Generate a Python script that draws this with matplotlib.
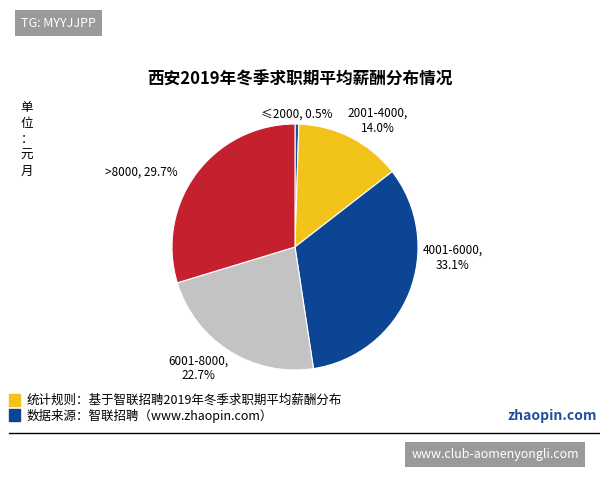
import matplotlib.pyplot as plt

plt.rcParams['font.family'] = ['Noto Sans CJK SC', 'DejaVu Sans']

labels = ["≤2000", "2001-4000", "4001-6000", "6001-8000", ">8000"]
shares = [0.5, 14.0, 33.1, 22.7, 29.7]
colors = ["#1f4e9c", "#f2c419", "#0d4595", "#c3c3c3", "#c4202e"]

fig = plt.figure(figsize=(6, 4.8), dpi=100)
fig.patch.set_facecolor("white")

ax = fig.add_axes([172 / 600, 110 / 480, 246 / 600, 246 / 480])
ax.pie(shares, colors=colors, startangle=90, counterclock=False,
       wedgeprops=dict(edgecolor="white", linewidth=0.8))
ax.set_xlim(-1, 1)
ax.set_ylim(-1, 1)
ax.set_aspect("equal")

fig.text(0.5, 0.825, "西安2019年冬季求职期平均薪酬分布情况", ha="center", fontsize=12, fontweight="bold")
fig.text(0.045, 0.79, "单\n位\n：\n元\n月", ha="center", va="top", fontsize=9, linespacing=1.3)

fig.text(0.435, 0.755, "≤2000, 0.5%", fontsize=8.5)
fig.text(0.63, 0.725, "2001-4000,\n14.0%", fontsize=8.5, ha="center", linespacing=1.2)
fig.text(0.755, 0.44, "4001-6000,\n33.1%", fontsize=8.5, ha="center", linespacing=1.2)
fig.text(0.33, 0.21, "6001-8000,\n22.7%", fontsize=8.5, ha="center", linespacing=1.2)
fig.text(0.175, 0.635, ">8000, 29.7%", fontsize=8.5)

fig.patches.append(plt.Rectangle((0.015, 0.155), 0.018, 0.025, transform=fig.transFigure, color="#f2c419"))
fig.patches.append(plt.Rectangle((0.015, 0.122), 0.018, 0.025, transform=fig.transFigure, color="#0d4595"))
fig.text(0.045, 0.167, "统计规则：基于智联招聘2019年冬季求职期平均薪酬分布", fontsize=9, va="center")
fig.text(0.045, 0.134, "数据来源：智联招聘（www.zhaopin.com）", fontsize=9, va="center")
fig.add_artist(plt.Line2D([0.015, 1.0], [0.097, 0.097], color="black", lw=1))

fig.text(0.995, 0.125, "zhaopin.com", fontsize=10, color="#1f4e9c", ha="right", fontweight="bold")

fig.text(0.035, 0.952, "TG: MYYJJPP", fontsize=9, color="white", va="center",
         bbox=dict(boxstyle="square,pad=0.5", fc="#9a9a9a", ec="none"))
fig.text(0.965, 0.053, "www.club-aomenyongli.com", fontsize=9, color="white", va="center", ha="right",
         bbox=dict(boxstyle="square,pad=0.5", fc="#9a9a9a", ec="none"))

fig.savefig("out.png", dpi=100)
